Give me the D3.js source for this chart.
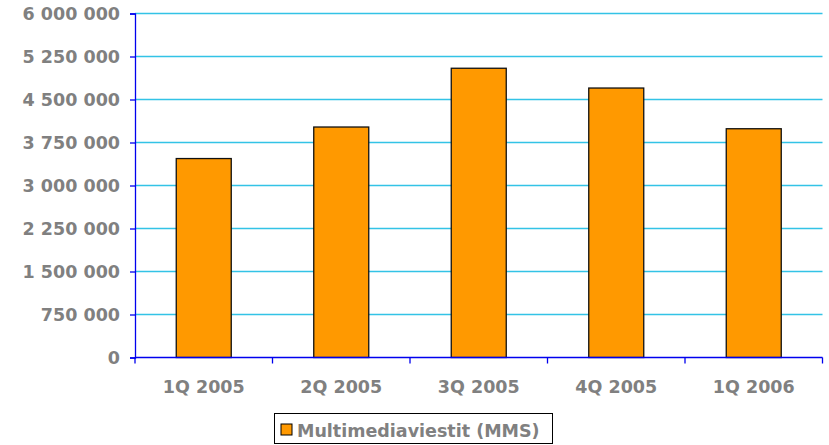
<!DOCTYPE html>
<html><head><meta charset="utf-8">
<script src="https://cdn.jsdelivr.net/npm/d3@7"></script>
<style>body{margin:0;background:#fff}svg{display:block}</style>
</head><body>
<svg id="c" width="829" height="445"></svg>
<script>
const categories = ["1Q 2005","2Q 2005","3Q 2005","4Q 2005","1Q 2006"];
const values = [3470000, 4020000, 5045000, 4700000, 3990000];
const yTicks = [0,750000,1500000,2250000,3000000,3750000,4500000,5250000,6000000];
const seriesName = "Multimediaviestit (MMS)";

(function(){
const svg = d3.select("#c");
const pLeft = 135, pRight = 822.5, pTop = 13.5, pBottom = 357.5;
const font = "'DejaVu Sans', Verdana, sans-serif";
const x = d3.scaleBand().domain(categories).range([pLeft, pRight]).paddingInner(0.6).paddingOuter(0.3);
const y = d3.scaleLinear().domain([0, 6000000]).range([pBottom, pTop]);
const fmt = v => d3.format(",")(v).replace(/,/g, " ");

// gridlines
svg.append("g").selectAll("line").data(yTicks.filter(d => d > 0)).join("line")
  .attr("x1", pLeft).attr("x2", pRight).attr("y1", d => y(d)).attr("y2", d => y(d))
  .attr("stroke", "#33c3e6").attr("stroke-width", 1.3);

// bars
svg.append("g").selectAll("rect").data(values).join("rect")
  .attr("x", (d, i) => x(categories[i])).attr("width", x.bandwidth())
  .attr("y", d => y(d)).attr("height", d => pBottom - y(d))
  .attr("fill", "#ff9900").attr("stroke", "#111").attr("stroke-width", 1.3);

// y axis
const ya = svg.append("g").attr("transform", `translate(${pLeft},0)`)
  .call(d3.axisLeft(y).tickValues(yTicks).tickFormat(fmt).tickSize(5).tickPadding(10));
ya.select(".domain").attr("stroke", "#0000ee").attr("stroke-width", 1.3);
ya.selectAll(".tick line").attr("stroke", "#0000ee").attr("stroke-width", 1.3);
ya.selectAll("text").attr("fill", "#808080").attr("font-family", font).attr("font-weight", "bold").attr("font-size", "17.5px");

// x axis
const xe = d3.scalePoint().domain(d3.range(categories.length + 1)).range([pLeft, pRight]);
const xa = svg.append("g").attr("transform", `translate(0,${pBottom})`);
xa.append("line").attr("x1", pLeft).attr("x2", pRight).attr("stroke", "#0000ee").attr("stroke-width", 1.3);
xa.selectAll("line.t").data(d3.range(categories.length + 1)).join("line").attr("class","t")
  .attr("x1", d => xe(d)).attr("x2", d => xe(d)).attr("y1", 0).attr("y2", 6)
  .attr("stroke", "#0000ee").attr("stroke-width", 1.3);
xa.selectAll("text").data(categories).join("text")
  .attr("x", d => x(d) + x.bandwidth() / 2).attr("y", 35)
  .attr("text-anchor", "middle").attr("fill", "#808080")
  .attr("font-family", font).attr("font-weight", "bold").attr("font-size", "17.5px")
  .text(d => d);

// legend
const lg = svg.append("g");
lg.append("rect").attr("x", 274.5).attr("y", 413.5).attr("width", 278).attr("height", 30)
  .attr("fill", "#fff").attr("stroke", "#000").attr("stroke-width", 1);
lg.append("rect").attr("x", 281).attr("y", 424).attr("width", 11).attr("height", 11)
  .attr("fill", "#ff9900").attr("stroke", "#000").attr("stroke-width", 1);
lg.append("text").attr("x", 297).attr("y", 436.5).attr("fill", "#808080")
  .attr("font-family", font).attr("font-weight", "bold").attr("font-size", "17.5px")
  .text(seriesName);
})();
</script>
</body></html>
